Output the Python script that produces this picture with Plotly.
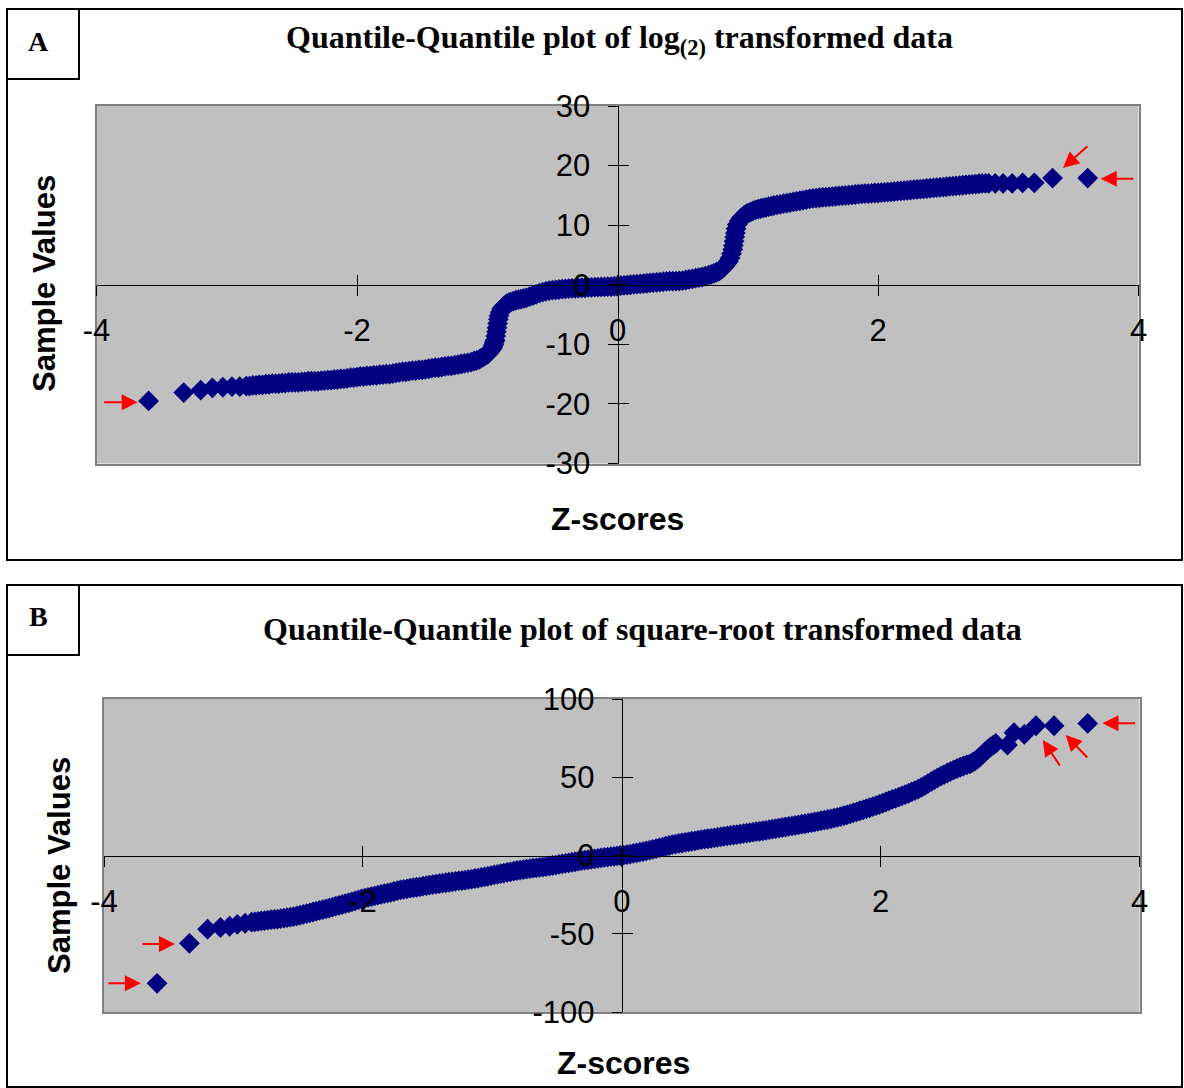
import plotly.graph_objects as go

W, H = 1184, 1088

# ---- Panel A: log2-transformed data, (z-score, sample value) pairs ----
log2_qq = [
    (-3.60, -19.5), (-3.33, -18.1), (-3.20, -17.7), (-3.11, -17.3), (-3.03, -17.2),
    (-2.96, -17.1), (-2.90, -17.1), (-2.85, -17.0), (-2.825, -17.0), (-2.80, -16.9),
    (-2.775, -16.9), (-2.75, -16.8), (-2.725, -16.8), (-2.70, -16.7), (-2.675, -16.7),
    (-2.65, -16.6), (-2.625, -16.6), (-2.60, -16.6), (-2.575, -16.5), (-2.55, -16.5),
    (-2.525, -16.4), (-2.50, -16.4), (-2.475, -16.4), (-2.45, -16.4), (-2.425, -16.3),
    (-2.40, -16.3), (-2.375, -16.2), (-2.35, -16.2), (-2.325, -16.2), (-2.30, -16.2),
    (-2.275, -16.1), (-2.25, -16.1), (-2.225, -16.0), (-2.20, -16.0), (-2.175, -15.9),
    (-2.15, -15.9), (-2.125, -15.8), (-2.10, -15.8), (-2.075, -15.7), (-2.05, -15.6),
    (-2.025, -15.6), (-2.00, -15.5), (-1.975, -15.4), (-1.95, -15.4), (-1.925, -15.3),
    (-1.90, -15.3), (-1.875, -15.2), (-1.85, -15.2), (-1.825, -15.1), (-1.80, -15.1),
    (-1.775, -15.0), (-1.75, -15.0), (-1.725, -14.9), (-1.70, -14.8), (-1.675, -14.7),
    (-1.65, -14.6), (-1.625, -14.6), (-1.60, -14.5), (-1.575, -14.4), (-1.55, -14.4),
    (-1.525, -14.3), (-1.50, -14.3), (-1.475, -14.2), (-1.45, -14.1), (-1.425, -14.0),
    (-1.40, -13.9), (-1.375, -13.9), (-1.35, -13.8), (-1.325, -13.7), (-1.30, -13.6),
    (-1.275, -13.6), (-1.25, -13.5), (-1.225, -13.4), (-1.20, -13.3), (-1.175, -13.2),
    (-1.15, -13.1), (-1.125, -13.0), (-1.10, -12.8), (-1.08, -12.7), (-1.06, -12.5),
    (-1.045, -12.3), (-1.03, -12.1), (-1.015, -11.9), (-1.00, -11.7), (-0.99, -11.5),
    (-0.98, -11.2), (-0.97, -10.9), (-0.96, -10.6), (-0.955, -10.3), (-0.95, -10.0),
    (-0.945, -9.6), (-0.94, -9.3), (-0.935, -8.6), (-0.93, -7.9), (-0.925, -7.2),
    (-0.92, -6.5), (-0.915, -5.8), (-0.91, -5.2), (-0.90, -4.6), (-0.89, -4.1),
    (-0.88, -3.8), (-0.87, -3.6), (-0.86, -3.4), (-0.85, -3.2), (-0.835, -3.0),
    (-0.82, -2.9), (-0.80, -2.75), (-0.78, -2.6), (-0.76, -2.5), (-0.74, -2.4),
    (-0.72, -2.3), (-0.70, -2.2), (-0.675, -2.0), (-0.65, -1.8), (-0.625, -1.6),
    (-0.60, -1.4), (-0.575, -1.25), (-0.55, -1.1), (-0.525, -1.0), (-0.50, -0.9),
    (-0.475, -0.85), (-0.45, -0.8), (-0.425, -0.75), (-0.40, -0.7), (-0.375, -0.65),
    (-0.35, -0.6), (-0.325, -0.6), (-0.30, -0.55), (-0.275, -0.5), (-0.25, -0.5),
    (-0.225, -0.45), (-0.20, -0.45), (-0.175, -0.4), (-0.15, -0.4), (-0.125, -0.35),
    (-0.10, -0.35), (-0.075, -0.3), (-0.05, -0.3), (-0.025, -0.25), (0.00, -0.25),
    (0.025, -0.15), (0.05, -0.1), (0.075, -0.05), (0.10, 0.0), (0.125, 0.05),
    (0.15, 0.1), (0.175, 0.15), (0.20, 0.2), (0.225, 0.25), (0.25, 0.3),
    (0.275, 0.35), (0.30, 0.4), (0.325, 0.45), (0.35, 0.5), (0.375, 0.55),
    (0.40, 0.6), (0.425, 0.6), (0.45, 0.6), (0.475, 0.65), (0.50, 0.7),
    (0.525, 0.8), (0.55, 0.9), (0.575, 1.0), (0.60, 1.1), (0.625, 1.2),
    (0.65, 1.3), (0.675, 1.45), (0.70, 1.6), (0.72, 1.75), (0.74, 1.9),
    (0.76, 2.1), (0.78, 2.3), (0.795, 2.55), (0.81, 2.8), (0.82, 3.05),
    (0.83, 3.3), (0.84, 3.6), (0.85, 3.9), (0.865, 4.5), (0.875, 5.2),
    (0.885, 5.9), (0.89, 6.6), (0.895, 7.3), (0.90, 8.0), (0.905, 8.7),
    (0.91, 9.4), (0.92, 10.1), (0.935, 10.7), (0.95, 11.2), (0.97, 11.6),
    (0.985, 11.8), (1.00, 12.0), (1.02, 12.2), (1.04, 12.4), (1.06, 12.55),
    (1.08, 12.7), (1.10, 12.8), (1.12, 12.9), (1.14, 13.0), (1.16, 13.1),
    (1.18, 13.2), (1.20, 13.3), (1.225, 13.4), (1.25, 13.5), (1.275, 13.6),
    (1.30, 13.7), (1.325, 13.8), (1.35, 13.9), (1.375, 14.0), (1.40, 14.1),
    (1.425, 14.2), (1.45, 14.3), (1.475, 14.4), (1.50, 14.5), (1.525, 14.55),
    (1.55, 14.6), (1.575, 14.65), (1.60, 14.7), (1.625, 14.75), (1.65, 14.8),
    (1.675, 14.85), (1.70, 14.9), (1.725, 14.95), (1.75, 15.0), (1.775, 15.05),
    (1.80, 15.1), (1.825, 15.15), (1.85, 15.2), (1.875, 15.25), (1.90, 15.3),
    (1.925, 15.3), (1.95, 15.35), (1.975, 15.4), (2.00, 15.4), (2.025, 15.45),
    (2.05, 15.5), (2.075, 15.55), (2.10, 15.6), (2.125, 15.65), (2.15, 15.7),
    (2.175, 15.75), (2.20, 15.8), (2.225, 15.85), (2.25, 15.9), (2.275, 15.95),
    (2.30, 16.0), (2.325, 16.05), (2.35, 16.1), (2.375, 16.15), (2.40, 16.2),
    (2.425, 16.25), (2.45, 16.3), (2.475, 16.35), (2.50, 16.4), (2.525, 16.45),
    (2.55, 16.5), (2.575, 16.55), (2.60, 16.6), (2.625, 16.65), (2.65, 16.7),
    (2.675, 16.75), (2.70, 16.8), (2.725, 16.85), (2.75, 16.9), (2.775, 16.95),
    (2.80, 17.0), (2.825, 17.0), (2.85, 17.0), (2.90, 17.0), (2.96, 17.0),
    (3.03, 17.0), (3.11, 17.1), (3.20, 17.1), (3.34, 17.9), (3.61, 17.9),
]

# ---- Panel B: square-root-transformed data, (z-score, sample value) pairs ----
sqrt_qq = [
    (-3.59, -81.7), (-3.34, -56.1), (-3.20, -47.1), (-3.10, -46.0), (-3.03, -45.2),
    (-2.97, -44.0), (-2.91, -43.3), (-2.86, -42.6), (-2.835, -42.4), (-2.81, -42.1),
    (-2.785, -41.8), (-2.76, -41.6), (-2.735, -41.3), (-2.71, -41.0), (-2.685, -40.8),
    (-2.66, -40.6), (-2.635, -40.3), (-2.61, -40.0), (-2.585, -39.7), (-2.56, -39.4),
    (-2.535, -39.0), (-2.51, -38.6), (-2.485, -38.1), (-2.46, -37.6), (-2.435, -37.1),
    (-2.41, -36.6), (-2.385, -36.1), (-2.36, -35.6), (-2.335, -35.1), (-2.31, -34.6),
    (-2.285, -34.1), (-2.26, -33.6), (-2.235, -33.0), (-2.21, -32.4), (-2.185, -31.9),
    (-2.16, -31.3), (-2.135, -30.8), (-2.11, -30.2), (-2.085, -29.6), (-2.06, -29.0),
    (-2.035, -28.4), (-2.01, -27.8), (-1.985, -27.3), (-1.96, -26.8), (-1.935, -26.3),
    (-1.91, -25.8), (-1.885, -25.3), (-1.86, -24.9), (-1.835, -24.4), (-1.81, -24.0),
    (-1.785, -23.5), (-1.76, -23.0), (-1.735, -22.5), (-1.71, -22.0), (-1.685, -21.6),
    (-1.66, -21.3), (-1.635, -20.9), (-1.61, -20.6), (-1.585, -20.3), (-1.56, -20.0),
    (-1.535, -19.6), (-1.51, -19.3), (-1.485, -18.9), (-1.46, -18.6), (-1.435, -18.3),
    (-1.41, -18.0), (-1.385, -17.7), (-1.36, -17.4), (-1.335, -17.1), (-1.31, -16.8),
    (-1.285, -16.5), (-1.26, -16.2), (-1.235, -16.0), (-1.21, -15.7), (-1.185, -15.4),
    (-1.16, -15.1), (-1.135, -14.7), (-1.11, -14.4), (-1.085, -14.0), (-1.06, -13.7),
    (-1.035, -13.3), (-1.01, -12.9), (-0.985, -12.4), (-0.96, -12.0), (-0.935, -11.6),
    (-0.91, -11.2), (-0.885, -10.8), (-0.86, -10.4), (-0.835, -10.0), (-0.81, -9.6),
    (-0.785, -9.3), (-0.76, -9.0), (-0.735, -8.7), (-0.71, -8.4), (-0.685, -8.1),
    (-0.66, -7.9), (-0.635, -7.6), (-0.61, -7.4), (-0.585, -7.1), (-0.56, -6.8),
    (-0.535, -6.4), (-0.51, -6.1), (-0.485, -5.7), (-0.46, -5.4), (-0.435, -5.0),
    (-0.41, -4.7), (-0.385, -4.3), (-0.36, -4.0), (-0.335, -3.6), (-0.31, -3.3),
    (-0.285, -3.0), (-0.26, -2.7), (-0.235, -2.4), (-0.21, -2.1), (-0.185, -1.8),
    (-0.16, -1.5), (-0.135, -1.2), (-0.11, -1.0), (-0.085, -0.7), (-0.06, -0.5),
    (-0.035, -0.2), (-0.01, 0.0), (0.015, 0.3), (0.04, 0.6), (0.065, 0.9),
    (0.09, 1.3), (0.115, 1.7), (0.14, 2.1), (0.165, 2.5), (0.19, 3.0),
    (0.215, 3.4), (0.24, 3.9), (0.265, 4.4), (0.29, 4.9), (0.315, 5.4),
    (0.34, 5.9), (0.365, 6.4), (0.39, 6.9), (0.415, 7.3), (0.44, 7.7),
    (0.465, 8.0), (0.49, 8.4), (0.515, 8.7), (0.54, 9.1), (0.565, 9.4),
    (0.59, 9.8), (0.615, 10.1), (0.64, 10.4), (0.665, 10.7), (0.69, 11.0),
    (0.715, 11.3), (0.74, 11.6), (0.765, 11.9), (0.79, 12.2), (0.815, 12.5),
    (0.84, 12.8), (0.865, 13.1), (0.89, 13.4), (0.915, 13.7), (0.94, 14.0),
    (0.965, 14.3), (0.99, 14.6), (1.015, 14.9), (1.04, 15.2), (1.065, 15.5),
    (1.09, 15.8), (1.115, 16.1), (1.14, 16.5), (1.165, 16.8), (1.19, 17.2),
    (1.215, 17.5), (1.24, 17.9), (1.265, 18.2), (1.29, 18.6), (1.315, 18.9),
    (1.34, 19.3), (1.365, 19.6), (1.39, 20.0), (1.415, 20.3), (1.44, 20.7),
    (1.465, 21.0), (1.49, 21.4), (1.515, 21.8), (1.54, 22.2), (1.565, 22.6),
    (1.59, 23.0), (1.615, 23.4), (1.64, 23.9), (1.665, 24.4), (1.69, 24.9),
    (1.715, 25.4), (1.74, 26.0), (1.765, 26.6), (1.79, 27.3), (1.815, 27.9),
    (1.84, 28.6), (1.865, 29.2), (1.89, 29.9), (1.915, 30.5), (1.94, 31.2),
    (1.965, 31.9), (1.99, 32.6), (2.015, 33.4), (2.04, 34.2), (2.065, 35.0),
    (2.09, 35.8), (2.115, 36.5), (2.14, 37.3), (2.165, 38.1), (2.19, 38.9),
    (2.215, 39.7), (2.24, 40.6), (2.265, 41.5), (2.29, 42.4), (2.315, 43.5),
    (2.34, 44.6), (2.365, 45.9), (2.39, 47.2), (2.415, 48.4), (2.44, 49.6),
    (2.465, 50.7), (2.49, 51.7), (2.515, 52.7), (2.54, 53.7), (2.565, 54.7),
    (2.59, 55.6), (2.615, 56.4), (2.64, 57.2), (2.665, 57.9), (2.69, 58.6),
    (2.71, 59.5), (2.73, 60.5), (2.75, 61.8), (2.77, 63.2), (2.79, 64.8),
    (2.81, 66.5), (2.83, 68.0), (2.85, 69.4), (2.87, 70.5), (2.89, 71.6),
    (2.98, 70.6), (3.03, 78.5), (3.11, 77.4), (3.20, 82.9), (3.34, 82.9),
    (3.60, 84.4),
]

log2_z = [p[0] for p in log2_qq]
log2_values = [p[1] for p in log2_qq]
sqrt_z = [p[0] for p in sqrt_qq]
sqrt_values = [p[1] for p in sqrt_qq]

# ---- Axis ticks ----
z_ticks = [-4, -2, 0, 2, 4]
z_tick_text = ["-4", "-2", "0", "2", "4"]
log2_ticks = [-30, -20, -10, 0, 10, 20, 30]
log2_tick_text = ["-30", "-20", "-10", "0", "10", "20", "30"]
sqrt_ticks = [-100, -50, 0, 50, 100]
sqrt_tick_text = ["-100", "-50", "0", "50", "100"]

# Highlighted outliers: (tip z, tip value, tail dx px, tail dy px)
log2_arrows = [(-3.684, -19.7, -35, 0), (3.71, 17.8, 34, 0), (3.42, 19.6, 26, -23)]
sqrt_arrows = [(-3.715, -81.7, -34, 0), (-3.452, -56.5, -34, 0), (3.714, 84.5, 34, 0),
               (3.253, 73.8, 18, 27), (3.43, 77.0, 23, 24)]


def px(x):
    return x / W


def py(y):
    return 1 - y / H


SANS = "Liberation Sans, Arial, sans-serif"
SERIF = "Liberation Serif, Times New Roman, serif"
NAVY = "#000080"
TICK_FONT = dict(family=SANS, size=31, color="black")
MARKER = dict(symbol="diamond", size=16, color=NAVY)

fig = go.Figure()
fig.add_trace(go.Scatter(x=log2_z, y=log2_values, mode="markers", xaxis="x", yaxis="y",
                         marker=MARKER, hoverinfo="x+y"))
fig.add_trace(go.Scatter(x=sqrt_z, y=sqrt_values, mode="markers", xaxis="x2", yaxis="y2",
                         marker=MARKER, hoverinfo="x+y"))

layout = dict(
    width=W, height=H, margin=dict(l=0, r=0, t=0, b=0, autoexpand=False),
    paper_bgcolor="white", plot_bgcolor="#C0C0C0", showlegend=False,
)


def frame_axis(domain, rng, anchor):
    return dict(domain=domain, range=rng, autorange=False, anchor=anchor, automargin=False,
                showline=True, mirror=True, linecolor="#808080", linewidth=2,
                showgrid=False, zeroline=False, ticks="", showticklabels=False)


def cross_axis(over, rng, pos, vals, text, ticks, labels, standoff, side):
    return dict(overlaying=over, anchor="free", position=pos, range=rng, autorange=False,
                side=side, showgrid=False, zeroline=False, automargin=False,
                showline=labels, linecolor="black", linewidth=1,
                ticks=ticks, ticklen=10, tickwidth=1, tickcolor="black",
                tickmode="array", tickvals=vals, ticktext=text,
                showticklabels=labels, tickfont=TICK_FONT, ticklabelstandoff=standoff)


panels = [
    # data axes, their ids, crossing overlay axes, pixel box, value range, y ticks
    ("xaxis", "yaxis", "x", "y", ("xaxis3", "xaxis4"), ("yaxis3", "yaxis4"),
     (96.5, 1138.5), (106, 463.5), [-30, 30], log2_ticks, log2_tick_text),
    ("xaxis2", "yaxis2", "x2", "y2", ("xaxis5", "xaxis6"), ("yaxis5", "yaxis6"),
     (104, 1139.5), (699, 1012), [-100, 100], sqrt_ticks, sqrt_tick_text),
]

for xa, ya, xr, yr, xo, yo, (xl, xrt), (yt, yb), yrange, yticks, ytext in panels:
    xdom = [px(xl), px(xrt)]
    ydom = [py(yb), py(yt)]
    layout[xa] = frame_axis(xdom, [-4, 4], yr)
    layout[ya] = frame_axis(ydom, yrange, xr)
    ymid = (ydom[0] + ydom[1]) / 2
    xmid = (xdom[0] + xdom[1]) / 2
    layout[xo[0]] = cross_axis(xr, [-4, 4], ymid, z_ticks, z_tick_text, "outside", True, 8, "bottom")
    layout[xo[1]] = cross_axis(xr, [-4, 4], ymid, z_ticks, z_tick_text, "inside", False, 0, "bottom")
    layout[yo[0]] = cross_axis(yr, yrange, xmid, yticks, ytext, "outside", True, 11, "left")
    layout[yo[1]] = cross_axis(yr, yrange, xmid, yticks, ytext, "inside", False, 0, "left")
    # empty traces so the crossing axes are drawn
    for xo_name in xo:
        fig.add_trace(go.Scatter(x=[], y=[], xaxis="x" + xo_name[5:], yaxis=yr,
                                 mode="markers", hoverinfo="skip"))
    for yo_name in yo:
        fig.add_trace(go.Scatter(x=[], y=[], xaxis=xr, yaxis="y" + yo_name[5:],
                                 mode="markers", hoverinfo="skip"))

fig.update_layout(**layout)

# Panel frames and letter boxes
for top, bottom in [(9, 560), (585, 1087)]:
    fig.add_shape(type="rect", xref="paper", yref="paper", x0=px(7), x1=px(1182),
                  y0=py(bottom), y1=py(top), line=dict(color="black", width=2))
    fig.add_shape(type="rect", xref="paper", yref="paper", x0=px(7), x1=px(79),
                  y0=py(top + 70), y1=py(top), line=dict(color="black", width=2))

texts = [
    ("<b>A</b>", 38, 41, SERIF, 28, 0),
    ("<b>B</b>", 38, 616, SERIF, 28, 0),
    ("<b>Quantile-Quantile plot of log<sub>(2)</sub> transformed data</b>", 619, 40, SERIF, 32, 0),
    ("<b>Quantile-Quantile plot of square-root transformed data</b>", 642, 629, SERIF, 32, 0),
    ("<b>Z-scores</b>", 617, 519, SANS, 32, 0),
    ("<b>Z-scores</b>", 623, 1063, SANS, 32, 0),
    ("<b>Sample Values</b>", 45, 284, SANS, 31, -90),
    ("<b>Sample Values</b>", 59, 866, SANS, 31, -90),
]
for t, x, y, fam, size, ang in texts:
    fig.add_annotation(text=t, xref="paper", yref="paper", x=px(x), y=py(y),
                       xanchor="center", yanchor="middle", showarrow=False, textangle=ang,
                       font=dict(family=fam, size=size, color="black"))

for arrows, xr, yr in [(log2_arrows, "x", "y"), (sqrt_arrows, "x2", "y2")]:
    for x, y, dx, dy in arrows:
        fig.add_annotation(text="", x=x, y=y, xref=xr, yref=yr, ax=dx, ay=dy,
                           showarrow=True, arrowhead=2, arrowsize=1.6, arrowwidth=2,
                           arrowcolor="red", standoff=0)

fig.write_html("out.html")
